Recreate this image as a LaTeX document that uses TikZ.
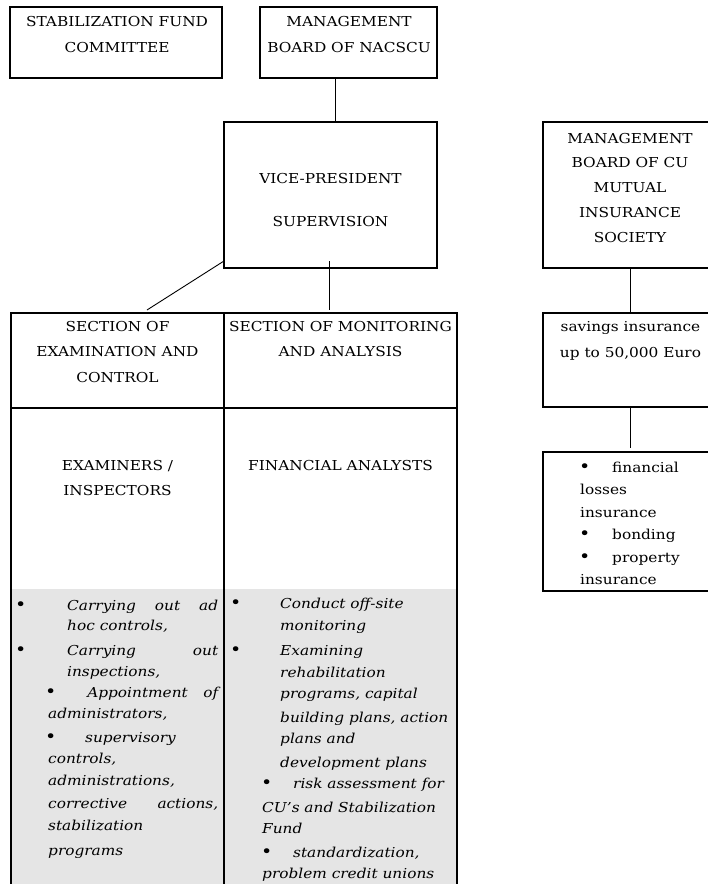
\documentclass[tikz,border=0pt]{standalone}
\usepackage{fontspec}
\setmainfont{DejaVu Serif}[FakeStretch=1.12]
\newcommand{\bul}{{\fontsize{17}{22}\selectfont\upshape•}}
\begin{document}
\begin{tikzpicture}[x=1pt,y=-1pt,
  box/.style={draw, line width=1.8pt, inner sep=0pt, outer sep=0pt, anchor=north west},
  conn/.style={line width=0.9pt},
  lbl/.style={inner sep=0pt, anchor=base, align=center, font=\fontsize{13.7}{25.5}\selectfont},
  itl/.style={inner sep=0pt, anchor=base west, font=\fontsize{13.7}{22}\selectfont\itshape},
  rgl/.style={inner sep=0pt, anchor=base west, font=\fontsize{13.7}{22}\selectfont}]
\useasboundingbox (0,0) rectangle (708,884);
\clip (0,0) rectangle (708,884);
% top boxes
\node[box, minimum width=212, minimum height=71] (sfc) at (10,7) {};
\node[box, minimum width=177, minimum height=71] (mb) at (260,7) {};
\node[box, minimum width=213, minimum height=146] (vp) at (224,122) {};
\node[lbl] (sfct) at (117,52) {STABILIZATION FUND\\COMMITTEE};
\node[lbl] (mbt) at (349,52) {MANAGEMENT\\BOARD OF NACSCU};
\node[lbl, font=\fontsize{13.7}{43}\selectfont] (vpt) at (330.5,226) {VICE-PRESIDENT\\SUPERVISION};
% table
\fill[gray!20] (11,589) rectangle (457,890);
\node[box, minimum width=213, minimum height=95] (exh) at (11,313) {};
\node[box, minimum width=233, minimum height=95] (monh) at (224,313) {};
\node[box, minimum width=213, minimum height=482] (exb) at (11,408) {};
\node[box, minimum width=233, minimum height=482] (monb) at (224,408) {};
\node[lbl] (exht) at (117.5,382) {SECTION OF\\EXAMINATION AND\\CONTROL};
\node[lbl] (monht) at (340.5,356.5) {SECTION OF MONITORING\\AND ANALYSIS};
\node[lbl] (exbt) at (117.5,495.5) {EXAMINERS /\\INSPECTORS};
\node[lbl] (monbt) at (340.5,470) {FINANCIAL ANALYSTS};
% left bullets
\node[rgl] (lb1) at (15,610) {\bul};
\node[itl] (l1) at (67,610) {\makebox[151pt][s]{Carrying out ad}};
\node[itl] (l2) at (67,630) {hoc controls,};
\node[rgl] (lb2) at (15,655) {\bul};
\node[itl] (l3) at (67,655) {\makebox[151pt][s]{Carrying out}};
\node[itl] (l4) at (67,676) {inspections,};
\node[itl] (l5) at (45,697) {\makebox[173pt][s]{\bul\itshape\ \ Appointment of}};
\node[itl] (l6) at (48,718) {administrators,};
\node[rgl] (lb3) at (45,742) {\bul};
\node[itl] (l7) at (85,742) {supervisory};
\node[itl] (l8) at (48,763) {controls,};
\node[itl] (l9) at (48,785) {administrations,};
\node[itl] (l10) at (48,808) {\makebox[170pt][s]{corrective actions,}};
\node[itl] (l11) at (48,830) {stabilization};
\node[itl] (l12) at (48,855) {programs};
% right bullets
\node[rgl] (rb1) at (230,608) {\bul};
\node[itl] (r1) at (280,608) {Conduct off-site};
\node[itl] (r2) at (280,630) {monitoring};
\node[rgl] (rb2) at (230,655) {\bul};
\node[itl] (r3) at (280,655) {Examining};
\node[itl] (r4) at (280,677) {rehabilitation};
\node[itl] (r5) at (280,698) {programs, capital};
\node[itl] (r6) at (280,722) {building plans, action};
\node[itl] (r7) at (280,743) {plans and};
\node[itl] (r8) at (280,767) {development plans};
\node[rgl] (rb3) at (261,788) {\bul};
\node[itl] (r9) at (293,788) {risk assessment for};
\node[itl] (r10) at (262,812) {CU’s and Stabilization};
\node[itl] (r11) at (262,833) {Fund};
\node[rgl] (rb4) at (261,857) {\bul};
\node[itl] (r12) at (293,857) {standardization,};
\node[itl] (r13) at (262,878) {problem credit unions};
% right column
\node[box, minimum width=180, minimum height=146] (cumb) at (543,122) {};
\node[box, minimum width=180, minimum height=94] (sav) at (543,313) {};
\node[box, minimum width=180, minimum height=139] (ins) at (543,452) {};
\node[lbl, font=\fontsize{13.7}{24.75}\selectfont] (cumbt) at (630,242) {MANAGEMENT\\BOARD OF CU\\MUTUAL\\INSURANCE\\SOCIETY};
\node[lbl] (savt) at (630.5,357) {savings insurance\\up to 50,000 Euro};
\node[rgl] (ib1) at (579,472) {\bul};
\node[rgl] (i1) at (612,472) {financial};
\node[rgl] (i2) at (580,494) {losses};
\node[rgl] (i3) at (580,517) {insurance};
\node[rgl] (ib2) at (579,539) {\bul};
\node[rgl] (i4) at (612,539) {bonding};
\node[rgl] (ib3) at (579,562) {\bul};
\node[rgl] (i5) at (612,562) {property};
\node[rgl] (i6) at (580,584) {insurance};
% connectors
\coordinate (c1) at (335,0);
\coordinate (c2) at (329,0);
\coordinate (c3) at (147,0);
\coordinate (c4) at (630,0);
\draw[conn] (mb.south -| c1) -- (vp.north -| c1);
\draw[conn] ([yshift=7]vp.south -| c2) -- ([yshift=3]monh.north -| c2);
\draw[conn] ([yshift=7]vp.south west) -- ([yshift=3]exh.north -| c3);
\draw[conn] (cumb.south -| c4) -- (sav.north -| c4);
\draw[conn] (sav.south -| c4) -- ([yshift=4]ins.north -| c4);
\end{tikzpicture}
\end{document}
